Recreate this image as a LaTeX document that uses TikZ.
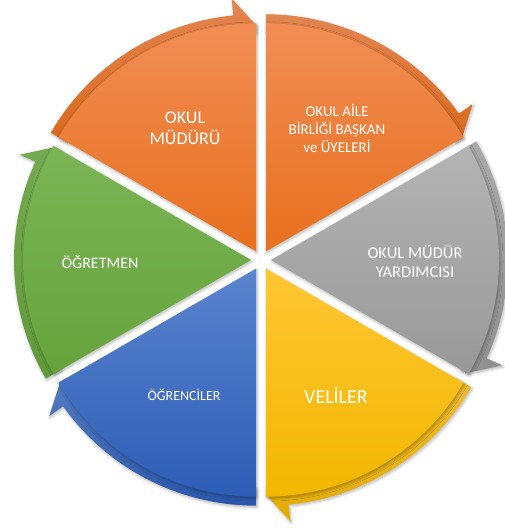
\documentclass[tikz,border=0pt]{standalone}
\usepackage{fontspec}
\setmainfont{Carlito}
\usetikzlibrary{shadows.blur}
\definecolor{orTop}{HTML}{F18D55}
\definecolor{orBot}{HTML}{E8701E}
\definecolor{grTop}{HTML}{B4B4B4}
\definecolor{grBot}{HTML}{989898}
\definecolor{yeTop}{HTML}{FFC633}
\definecolor{yeBot}{HTML}{F2B700}
\definecolor{blTop}{HTML}{5A84CF}
\definecolor{blBot}{HTML}{2E5DB6}
\definecolor{gnTop}{HTML}{7BB556}
\definecolor{gnBot}{HTML}{66A33C}
\begin{document}
\begin{tikzpicture}[x=1pt,y=1pt,
  lbl/.style={text=white, align=center, inner sep=0pt},
  soft/.style={blur shadow={shadow blur steps=6, shadow xshift=1pt, shadow yshift=-1.5pt, shadow blur radius=3pt, shadow opacity=30}}]
\useasboundingbox (0,0) rectangle (505,532);
\coordinate (C) at (261,272);
\foreach \as/\ct/\cb in {150/orTop/orBot, 90/orTop/orBot, 30/grTop/grBot, -30/yeTop/yeBot, -90/blTop/blBot, -150/gnTop/gnBot}{
  \pgfmathsetmacro\ae{\as-60}
  \pgfmathsetmacro\am{\as-30}
  \pgfmathsetmacro\ah{\ae+5.5}
  \begin{scope}[shift={(C)}, shift={(\am:10pt)}]
    \shade[top color=\ct!94!black, bottom color=\cb!94!black, soft] (\as:219pt) -- (\as:237pt)
      arc[start angle=\as, end angle=\ah, radius=237pt]
      -- (\ah:254pt) -- (\ae:226pt) -- (\ae:219pt)
      arc[start angle=\ae, end angle=\as, radius=219pt] -- cycle;
    \shade[top color=\ct, bottom color=\cb, soft] (0,0) -- (\as:228pt)
      arc[start angle=\as, end angle=\ae, radius=228pt] -- cycle;
  \end{scope}
}
\node[lbl, font=\fontsize{18}{21}\selectfont] (mudur) at (185,404) {OKUL\\MÜDÜRÜ};
\node[lbl, font=\fontsize{15}{18}\selectfont] (aile) at (337,404) {OKUL AİLE\\BİRLİĞİ BAŞKAN\\ve ÜYELERİ};
\node[lbl, font=\fontsize{16.5}{19}\selectfont] (yard) at (415,271) {OKUL MÜDÜR\\YARDIMCISI};
\node[lbl, font=\fontsize{16}{19}\selectfont] (ogretmen) at (100,270) {ÖĞRETMEN};
\node[lbl, font=\fontsize{14}{17}\selectfont] (ogrenci) at (184,137) {ÖĞRENCİLER};
\node[lbl, font=\fontsize{20}{24}\selectfont] (veli) at (336,137) {VELİLER};
\end{tikzpicture}
\end{document}
